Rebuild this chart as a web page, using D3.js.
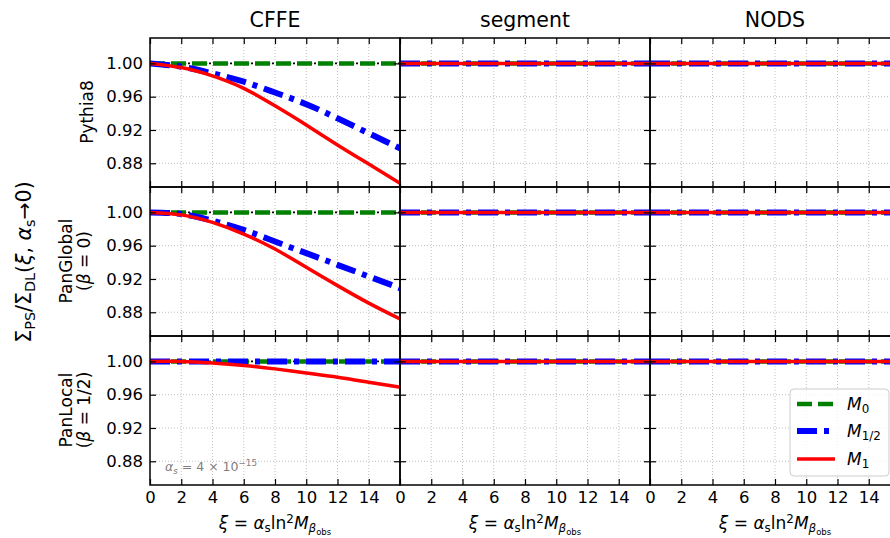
<!DOCTYPE html>
<html><head><meta charset="utf-8">
<script src="https://cdn.jsdelivr.net/npm/d3@7"></script>
<style>body{margin:0;background:#fff} svg{display:block;font-family:"DejaVu Sans",sans-serif}</style>
</head><body><svg id="c" width="890" height="538"></svg>
<script>
// ---------- data ----------
const columns = ["CFFE", "segment", "NODS"];
const rowLabels = [["Pythia8"], ["PanGlobal", "(β = 0)"], ["PanLocal", "(β = 1/2)"]];
const xi = [0, 2, 4, 6, 8, 10, 12, 14, 16];
const xTicks = [0, 2, 4, 6, 8, 10, 12, 14];
const yTicks = [0.88, 0.92, 0.96, 1.00];
const ones = [1, 1, 1, 1, 1, 1, 1, 1, 1];

const cffePythia8M0  = [1, 1, 1, 1, 1, 1, 1, 1, 1];
const cffePythia8M12 = [1.000, 0.996, 0.988, 0.978, 0.965, 0.951, 0.934, 0.916, 0.898];
const cffePythia8M1  = [1.000, 0.995, 0.985, 0.970, 0.949, 0.926, 0.902, 0.879, 0.856];

const cffePanGlobalM0  = [1, 1, 1, 1, 1, 1, 1, 1, 1];
const cffePanGlobalM12 = [1.000, 0.998, 0.990, 0.979, 0.965, 0.951, 0.937, 0.923, 0.909];
const cffePanGlobalM1  = [1.000, 0.997, 0.988, 0.974, 0.956, 0.934, 0.912, 0.891, 0.872];

const cffePanLocalM0  = [1, 1, 1, 1, 1, 1, 1, 1, 1];
const cffePanLocalM12 = [1, 1, 1, 1, 1, 1, 1, 1, 1];
const cffePanLocalM1  = [1.000, 1.000, 0.998, 0.995, 0.991, 0.986, 0.981, 0.975, 0.969];

// segment and NODS: all schemes equal to 1
const segmentM0 = ones, segmentM12 = ones, segmentM1 = ones;
const nodsM0 = ones, nodsM12 = ones, nodsM1 = ones;

const seriesNames = ["M0", "M12", "M1"];
const panelData = [
  [[cffePythia8M0, cffePythia8M12, cffePythia8M1], [segmentM0, segmentM12, segmentM1], [nodsM0, nodsM12, nodsM1]],
  [[cffePanGlobalM0, cffePanGlobalM12, cffePanGlobalM1], [segmentM0, segmentM12, segmentM1], [nodsM0, nodsM12, nodsM1]],
  [[cffePanLocalM0, cffePanLocalM12, cffePanLocalM1], [segmentM0, segmentM12, segmentM1], [nodsM0, nodsM12, nodsM1]]
];

// ---------- layout / style ----------
const styles = {
  M0:  {color: "#008000", width: 4.5, dash: "15,6"},
  M12: {color: "#0000ff", width: 6,   dash: "20,7,5,7"},
  M1:  {color: "#ff0000", width: 3.5, dash: null}
};
const plotLeft = 150, plotTop = 38, pw = 250, ph = 149;
const svg = d3.select("#c");
const x = d3.scaleLinear().domain([0, 16]).range([0, pw]);
const y = d3.scaleLinear().domain([0.8515, 1.0305]).range([ph, 0]);

function rich(textSel, parts, size) {
  let cur = 0;
  parts.forEach(p => {
    const lvl = p.sub || 0, sup = p.sup || 0;
    const fs = lvl === 1 ? size * 0.7 : lvl === 2 ? size * 0.5 : sup ? size * 0.7 : size;
    const shift = lvl === 1 ? size * 0.2 : lvl === 2 ? size * 0.38 : sup ? -size * 0.38 : 0;
    const ts = textSel.append("tspan").text(p.t).attr("font-size", fs).attr("dy", shift - cur);
    if (p.it) ts.attr("font-style", "italic");
    cur = shift;
  });
}

const defs = svg.append("defs");
defs.append("clipPath").attr("id", "pclip").append("rect").attr("width", pw).attr("height", ph);

const line = d3.line().x((d, i) => x(xi[i])).y(d => y(d)).curve(d3.curveNatural);

rowLabels.forEach((rl, r) => {
  columns.forEach((col, c) => {
    const g = svg.append("g").attr("transform", `translate(${plotLeft + c * pw},${plotTop + r * ph})`);
    // grid
    g.append("g").selectAll("line").data(xTicks.slice(1)).join("line")
      .attr("x1", d => x(d)).attr("x2", d => x(d)).attr("y1", 0).attr("y2", ph)
      .attr("stroke", "#b0b0b0").attr("stroke-width", 0.8).attr("stroke-dasharray", "1,2");
    g.append("g").selectAll("line").data(yTicks).join("line")
      .attr("x1", 0).attr("x2", pw).attr("y1", d => y(d)).attr("y2", d => y(d))
      .attr("stroke", "#b0b0b0").attr("stroke-width", 0.8).attr("stroke-dasharray", "1,2");
    const lg = g.append("g").attr("clip-path", "url(#pclip)");
    // reference black dash-dot at 1
    lg.append("path").datum(ones).attr("d", line).attr("fill", "none")
      .attr("stroke", "#000").attr("stroke-width", 1.6)
      .attr("stroke-dasharray", "2,19").attr("stroke-dashoffset", 4);
    panelData[r][c].forEach((vals, k) => {
      const st = styles[seriesNames[k]];
      const p = lg.append("path").datum(vals).attr("d", line).attr("fill", "none")
        .attr("stroke", st.color).attr("stroke-width", st.width);
      if (st.dash) p.attr("stroke-dasharray", st.dash);
    });
    // axes
    const bottom = d3.axisBottom(x).tickValues(xTicks).tickSizeInner(-6).tickSizeOuter(0).tickPadding(6)
      .tickFormat(r === 2 ? d3.format("d") : () => "");
    const topAx = d3.axisTop(x).tickValues(xTicks).tickSizeInner(-6).tickSizeOuter(0).tickFormat(() => "");
    const leftAx = d3.axisLeft(y).tickValues(yTicks).tickSizeInner(-6).tickSizeOuter(0).tickPadding(7)
      .tickFormat(c === 0 ? d3.format(".2f") : () => "");
    const rightAx = d3.axisRight(y).tickValues(yTicks).tickSizeInner(-6).tickSizeOuter(0).tickFormat(() => "");
    [[bottom, `translate(0,${ph})`], [topAx, null], [leftAx, null], [rightAx, `translate(${pw},0)`]].forEach(([ax, tr]) => {
      const a = g.append("g");
      if (tr) a.attr("transform", tr);
      a.call(ax);
      a.select(".domain").remove();
      a.selectAll(".tick line").attr("stroke", "#000").attr("stroke-width", 1.2);
      a.selectAll(".tick text").attr("font-size", 16.5).attr("fill", "#000").attr("font-family", "DejaVu Sans");
    });
    g.append("rect").attr("width", pw).attr("height", ph).attr("fill", "none")
      .attr("stroke", "#000").attr("stroke-width", 1.5);
  });
});

// column titles and x labels
columns.forEach((col, c) => {
  svg.append("text").attr("x", plotLeft + c * pw + pw / 2).attr("y", 27).attr("text-anchor", "middle")
    .attr("font-size", 20.5).text(col);
  const t = svg.append("text").attr("x", plotLeft + c * pw + pw / 2).attr("y", 529).attr("text-anchor", "middle")
    .attr("font-size", 17);
  rich(t, [{t: "ξ", it: 1}, {t: " = "}, {t: "α", it: 1}, {t: "s", sub: 1}, {t: "ln"}, {t: "2", sup: 1},
           {t: "M", it: 1}, {t: "β", it: 1, sub: 1}, {t: "obs", sub: 2}], 17);
});

// row labels
const rowCentersY = [112, 261, 410];
rowLabels.forEach((rl, r) => {
  const cy = rowCentersY[r];
  if (rl.length === 1) {
    svg.append("text").attr("transform", `translate(93,${cy}) rotate(-90)`).attr("text-anchor", "middle")
      .attr("font-size", 17).text(rl[0]);
  } else {
    svg.append("text").attr("transform", `translate(72,${cy}) rotate(-90)`).attr("text-anchor", "middle")
      .attr("font-size", 17).text(rl[0]);
    const t = svg.append("text").attr("transform", `translate(90,${cy}) rotate(-90)`).attr("text-anchor", "middle")
      .attr("font-size", 17);
    const m = rl[1].match(/^\((β)(.*)\)$/);
    rich(t, [{t: "("}, {t: "β", it: 1}, {t: m[2] + ")"}], 17);
  }
});

// y label
const yl = svg.append("text").attr("transform", `translate(31,262) rotate(-90)`).attr("text-anchor", "middle")
  .attr("font-size", 20.5);
rich(yl, [{t: "Σ"}, {t: "PS", sub: 1}, {t: "/Σ"}, {t: "DL", sub: 1}, {t: "("}, {t: "ξ", it: 1}, {t: ", "},
          {t: "α", it: 1}, {t: "s", sub: 1}, {t: "→0)"}], 20.5);

// annotation
const ann = svg.append("text").attr("x", 165).attr("y", 471).attr("font-size", 12.5).attr("fill", "#808080");
rich(ann, [{t: "α", it: 1}, {t: "s", sub: 1, it: 1}, {t: " = 4 × 10"}, {t: "−15", sup: 1}], 12.5);

// legend
const lgd = svg.append("g").attr("transform", "translate(790,389)");
lgd.append("rect").attr("width", 99).attr("height", 87).attr("rx", 4)
  .attr("fill", "#fff").attr("fill-opacity", 0.8).attr("stroke", "#cccccc").attr("stroke-width", 1);
const legendItems = [
  {key: "M0", parts: [{t: "M", it: 1}, {t: "0", sub: 1}]},
  {key: "M12", parts: [{t: "M", it: 1}, {t: "1/2", sub: 1}]},
  {key: "M1", parts: [{t: "M", it: 1}, {t: "1", sub: 1}]}
];
const legendY = [15, 42, 70];
legendItems.forEach((it, i) => {
  const st = styles[it.key];
  const l = lgd.append("line").attr("x1", 7).attr("x2", 45).attr("y1", legendY[i]).attr("y2", legendY[i])
    .attr("stroke", st.color).attr("stroke-width", st.width);
  if (st.dash) l.attr("stroke-dasharray", st.dash);
  const t = lgd.append("text").attr("x", 57).attr("y", legendY[i] + 6).attr("font-size", 17);
  rich(t, it.parts, 17);
});
</script></body></html>
